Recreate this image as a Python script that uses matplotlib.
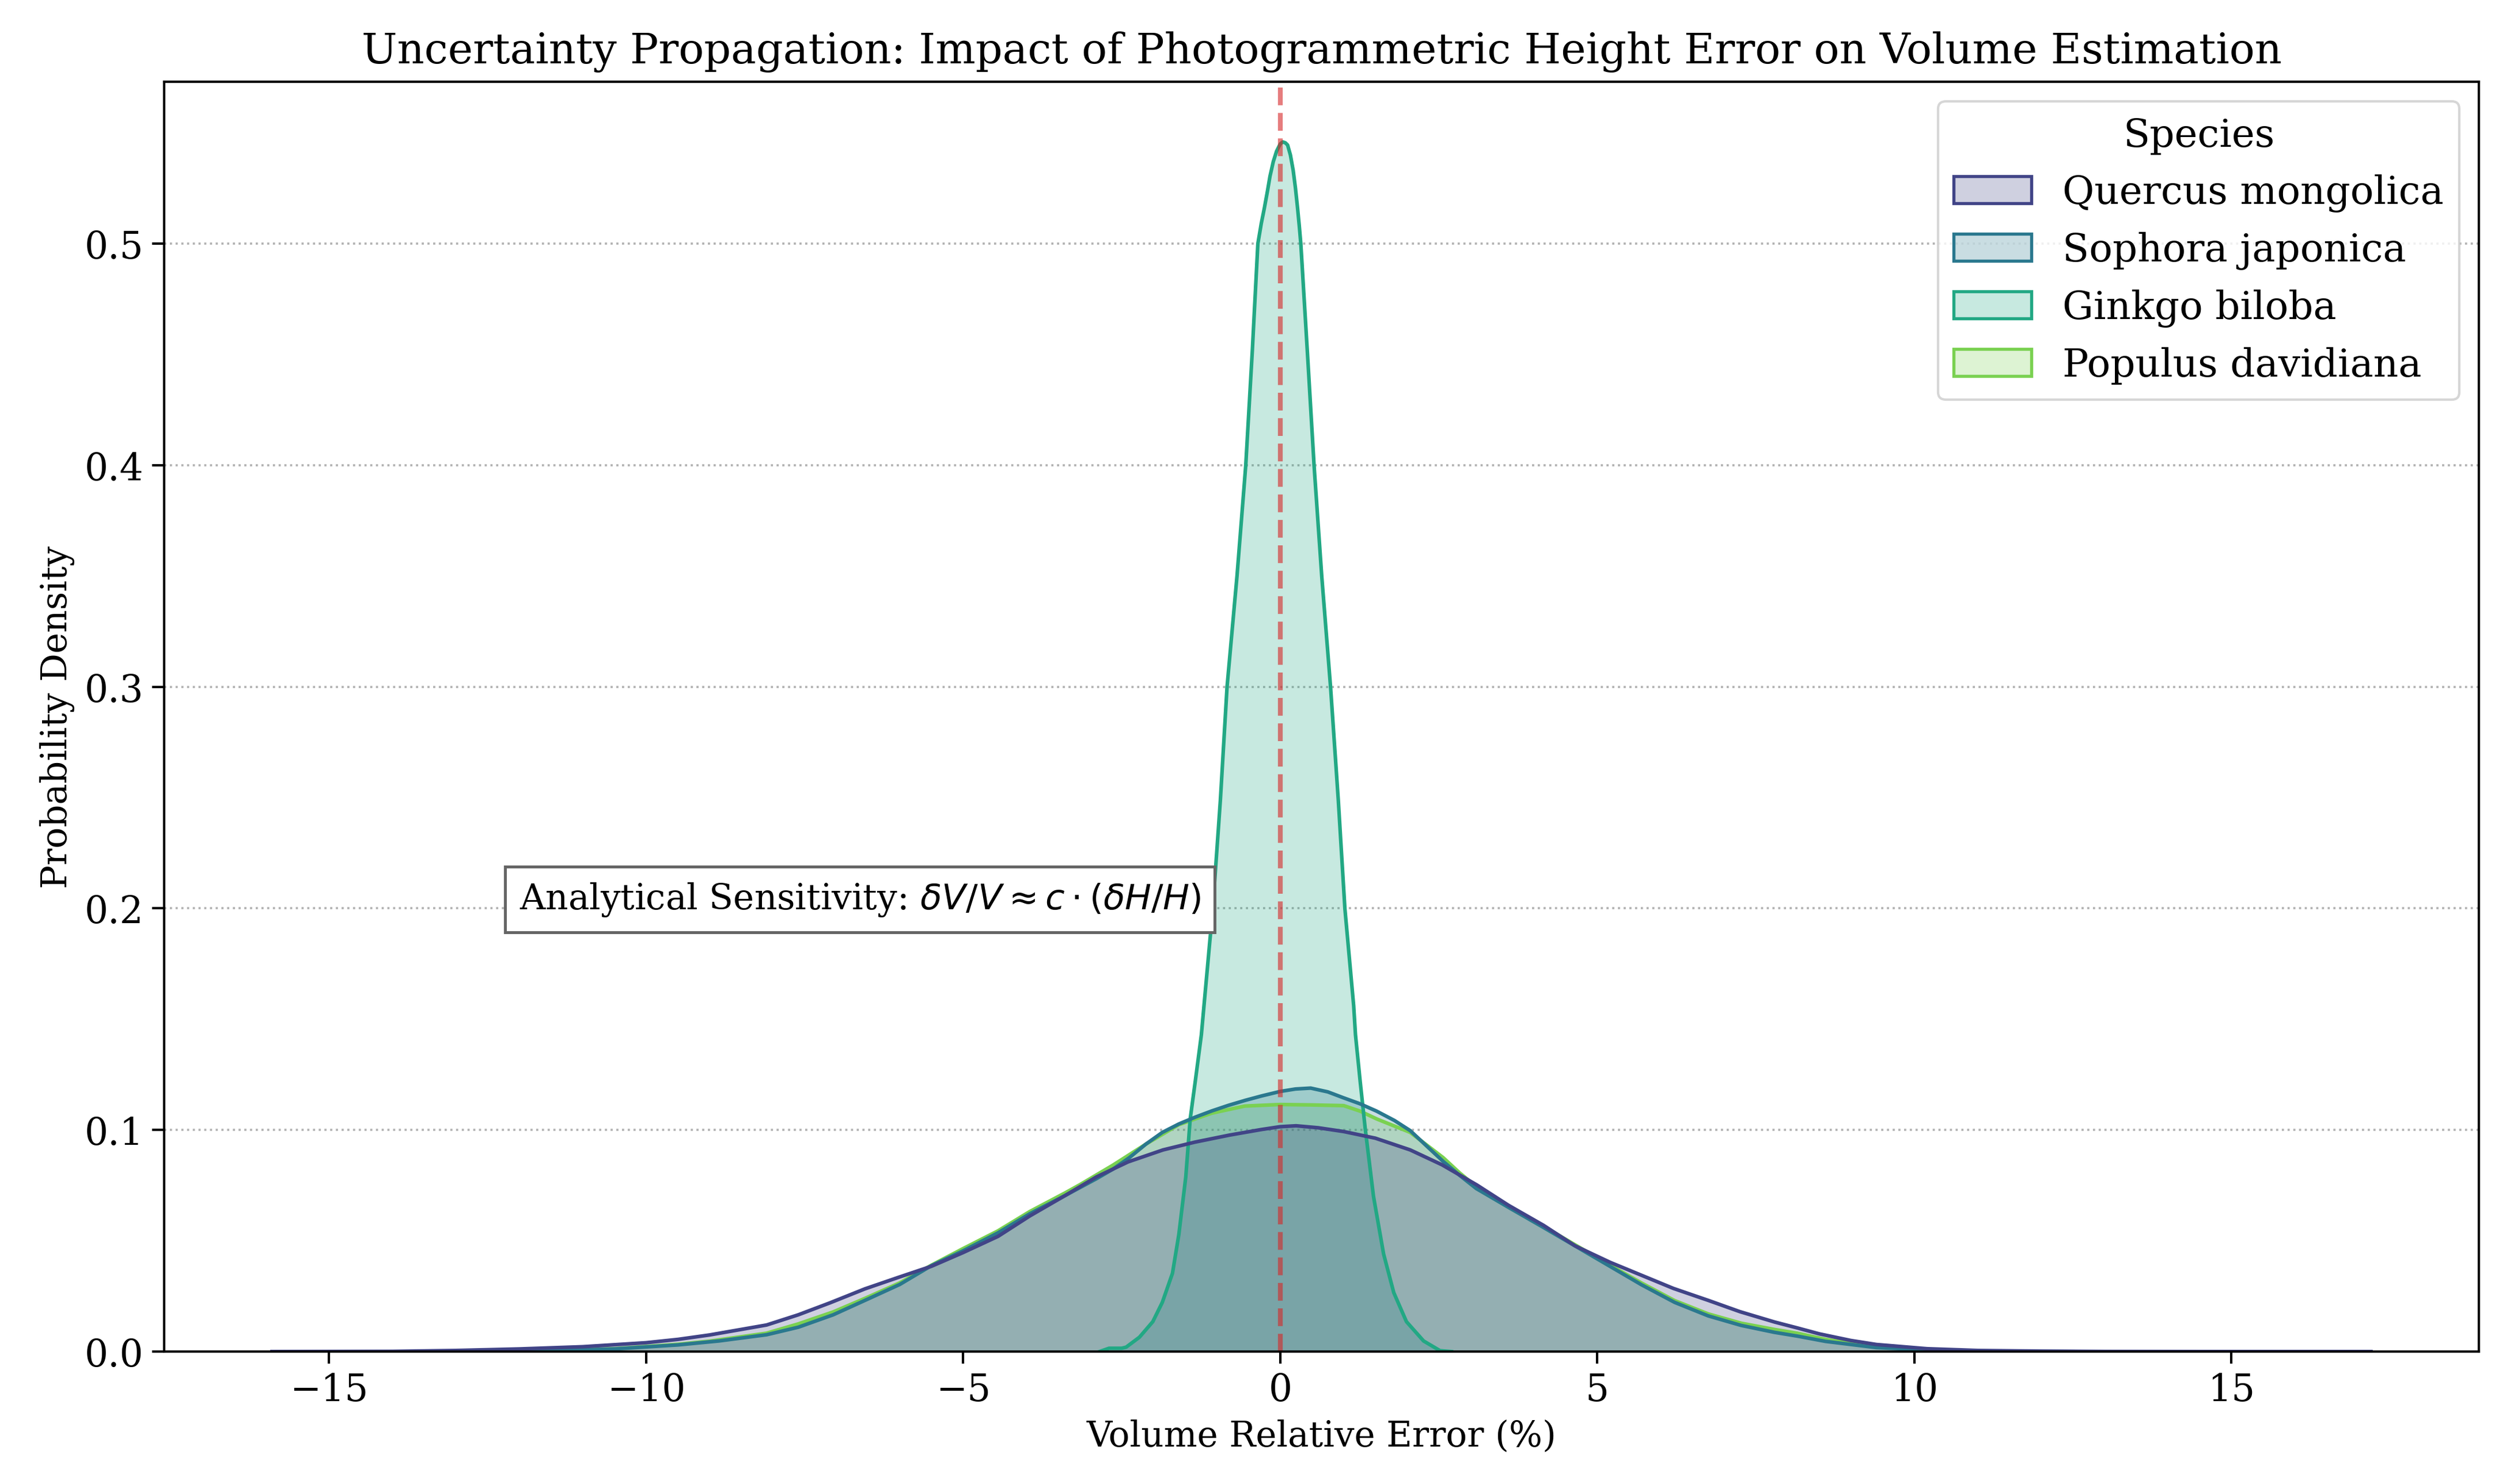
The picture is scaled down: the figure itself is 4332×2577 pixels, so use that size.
import matplotlib
matplotlib.use('Agg')
import matplotlib.pyplot as plt
from matplotlib.patches import Patch
from matplotlib.colors import to_rgba

plt.rcParams['font.family'] = ['DejaVu Serif']

# densities (x = volume relative error %, y = density)
species = ["Quercus mongolica", "Sophora japonica", "Ginkgo biloba", "Populus davidiana"]
colors = ["#414487", "#2A788E", "#22A884", "#7AD151"]

quercus_x = [-15.9, -14.0, -13.0, -12.0, -11.0, -10.0, -9.5, -9.0, -8.6, -8.1, -7.6, -7.1,
             -6.55, -6.0, -5.5, -5.0, -4.45, -3.95, -3.4, -2.9, -2.4, -1.85, -1.35, -0.8,
             -0.3, 0.0, 0.25, 0.6, 1.0, 1.5, 2.05, 2.55, 3.1, 3.6, 4.15, 4.65, 5.2, 5.7,
             6.2, 6.75, 7.25, 7.8, 8.15, 8.5, 9.0, 9.4, 10.2, 11.0, 12.0, 13.0, 14.5, 17.2]
quercus_y = [0.0, 0.0001, 0.0005, 0.0012, 0.0022, 0.0040, 0.0055, 0.0075, 0.0095, 0.0120,
             0.0166, 0.0220, 0.0283, 0.0337, 0.0385, 0.0447, 0.0520, 0.0612, 0.0703, 0.0788,
             0.0856, 0.0910, 0.0945, 0.0977, 0.1002, 0.1015, 0.1019, 0.1010, 0.0993, 0.0963,
             0.0910, 0.0843, 0.0752, 0.0660, 0.0570, 0.0477, 0.0403, 0.0344, 0.0285, 0.0231,
             0.0180, 0.0133, 0.0107, 0.0080, 0.0050, 0.0032, 0.0013, 0.0005, 0.0002, 0.00005,
             0.0, 0.0]

sophora_x = [-12.5, -11.5, -10.5, -9.5, -8.85, -8.1, -7.6, -7.05, -6.55, -6.0, -5.5, -5.0,
             -4.45, -3.95, -3.4, -2.9, -2.64, -2.38, -2.12, -1.86, -1.6, -1.34, -1.08, -0.82,
             -0.55, -0.29, 0.0, 0.24, 0.48, 0.75, 1.0, 1.26, 1.52, 1.8, 2.05, 2.3, 2.57,
             2.83, 3.09, 3.61, 4.14, 4.66, 5.18, 5.7, 6.22, 6.75, 7.27, 7.79, 8.15, 8.6,
             9.4, 10.5, 11.5, 12.5]
sophora_y = [0.0, 0.0003, 0.0012, 0.0030, 0.0048, 0.0076, 0.0110, 0.0166, 0.0231, 0.0303,
             0.0388, 0.0455, 0.0536, 0.0622, 0.0703, 0.0780, 0.0823, 0.0875, 0.0936, 0.0989,
             0.1027, 0.1058, 0.1086, 0.1111, 0.1134, 0.1154, 0.1174, 0.1185, 0.1189, 0.1172,
             0.1145, 0.1118, 0.1085, 0.1043, 0.0997, 0.0930, 0.0858, 0.0795, 0.0736, 0.0649,
             0.0562, 0.0475, 0.0388, 0.0301, 0.0222, 0.0161, 0.0118, 0.0087, 0.0070, 0.0046,
             0.0018, 0.0004, 0.0001, 0.0]

ginkgo_x = [-2.85, -2.7, -2.5, -2.43, -2.22, -2.01, -1.86, -1.70, -1.60, -1.49, -1.42, -1.34,
            -1.244, -1.203, -1.064, -0.944, -0.839, -0.682, -0.544, -0.44, -0.353, -0.30,
            -0.249, -0.2, -0.162, -0.11, -0.058, 0.0, 0.04, 0.08, 0.116, 0.16, 0.203, 0.24,
            0.272, 0.30, 0.324, 0.43, 0.533, 0.654, 0.793, 0.915, 1.019, 1.158, 1.186, 1.26,
            1.34, 1.47, 1.63, 1.79, 1.99, 2.26, 2.52, 2.7]
ginkgo_y = [0.0, 0.0015, 0.0015, 0.002, 0.0065, 0.0135, 0.0222, 0.0353, 0.0527, 0.0788, 0.105,
            0.122, 0.143, 0.156, 0.200, 0.249, 0.300, 0.350, 0.400, 0.452, 0.500, 0.509,
            0.5163, 0.524, 0.5304, 0.537, 0.5417, 0.545, 0.5459, 0.5455, 0.5445, 0.540,
            0.5332, 0.525, 0.5163, 0.508, 0.500, 0.450, 0.400, 0.350, 0.300, 0.249, 0.200,
            0.156, 0.143, 0.122, 0.1006, 0.0701, 0.044, 0.0266, 0.0135, 0.0048, 0.0004, 0.0]

populus_x = [-12.5, -11.5, -10.5, -9.5, -9.0, -8.1, -7.6, -7.05, -6.55, -6.0, -5.5, -5.0,
             -4.45, -3.95, -3.4, -3.16, -2.64, -2.12, -1.6, -1.08, -0.56, 0.0, 0.5, 1.0,
             1.26, 1.52, 2.05, 2.57, 2.83, 3.09, 3.61, 4.14, 4.66, 5.18, 5.7, 6.22, 6.75,
             7.27, 7.79, 8.15, 8.6, 9.2, 10.0, 11.0, 12.0]
populus_y = [0.0, 0.0003, 0.0013, 0.0033, 0.0047, 0.0083, 0.0125, 0.0179, 0.0240, 0.0310,
             0.0390, 0.0465, 0.0545, 0.0632, 0.0715, 0.0753, 0.0841, 0.0936, 0.1024, 0.1076,
             0.1108, 0.1115, 0.1113, 0.1110, 0.1085, 0.1050, 0.0989, 0.0875, 0.0806, 0.0745,
             0.0655, 0.0567, 0.0480, 0.0393, 0.0309, 0.0230, 0.0170, 0.0128, 0.0100, 0.0083,
             0.0055, 0.0030, 0.0011, 0.0003, 0.0]

curves = {
    "Quercus mongolica": (quercus_x, quercus_y),
    "Sophora japonica": (sophora_x, sophora_y),
    "Ginkgo biloba": (ginkgo_x, ginkgo_y),
    "Populus davidiana": (populus_x, populus_y),
}

fig, ax = plt.subplots(figsize=(14.44, 8.593), dpi=300)
fig.subplots_adjust(left=0.0658, right=0.9935, top=0.9445, bottom=0.0892)

# draw last species first so the first one sits on top (like seaborn)
for name, c in reversed(list(zip(species, colors))):
    x, y = curves[name]
    ax.fill_between(x, y, 0, color=c, alpha=0.25, linewidth=0)
    ax.plot(x, y, color=c, linewidth=1.5)

ax.axvline(0, color='#d62728', linestyle='--', linewidth=2.0, alpha=0.6)

ax.text(-12, 0.204, r'Analytical Sensitivity: $\delta V/V \approx c \cdot (\delta H/H)$',
        fontsize=14.7, va='center', ha='left',
        bbox=dict(boxstyle='square,pad=0.4', facecolor='white', edgecolor='#666666', linewidth=1.2))

ax.set_xlim(-17.6, 18.9)
ax.set_ylim(0, 0.573)
ax.set_xticks([-15, -10, -5, 0, 5, 10, 15])
ax.set_yticks([0.0, 0.1, 0.2, 0.3, 0.4, 0.5])
ax.tick_params(labelsize=15.5, width=1.0, length=5)
ax.yaxis.grid(True, linestyle=':', color='gray', alpha=0.6, linewidth=0.9)
ax.set_axisbelow(True)
for sp in ax.spines.values():
    sp.set_linewidth(1.0)

ax.set_title("Uncertainty Propagation: Impact of Photogrammetric Height Error on Volume Estimation",
             fontsize=17.6, pad=8)
ax.set_xlabel("Volume Relative Error (%)", fontsize=14.7)
ax.set_ylabel("Probability Density", fontsize=14.7)

handles = [Patch(facecolor=to_rgba(c, 0.25), edgecolor=c, linewidth=1.3) for c in colors]
ax.legend(handles, species, title="Species", loc='upper right', fontsize=16.2, title_fontsize=16.2)

plt.savefig('out.png', dpi=300)
